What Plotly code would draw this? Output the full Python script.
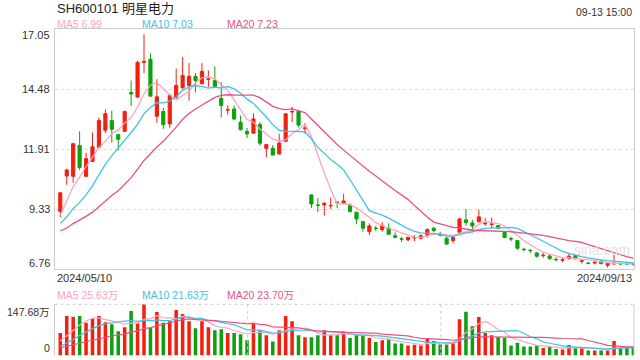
import plotly.graph_objects as go
import pandas as pd

# ---------------- data ----------------
dates = [d.strftime('%Y/%m/%d') for d in pd.bdate_range('2024-05-10', '2024-09-13')
         if d.strftime('%Y-%m-%d') != '2024-06-10']

open_ = [9.23, 10.75, 10.74, 12.06, 10.74, 11.38, 11.98, 12.72, 13.13, 12.53,
         12.67, 14.34, 14.14, 15.63, 15.76, 13.32, 13.52, 12.99, 14.14, 14.54,
         14.64, 15.03, 14.71, 14.90, 14.85, 14.09, 13.58, 13.63, 13.06, 12.67,
         12.59, 12.96, 11.94, 11.94, 11.70, 12.24, 13.50, 13.53, 12.79, 9.94,
         9.51, 9.51, 9.47, 9.63, 9.57, 9.51, 9.20, 8.79, 8.36, 8.51,
         8.45, 8.51, 8.19, 8.06, 8.01, 8.09, 8.08, 8.22, 8.51, 8.23,
         8.08, 7.98, 8.34, 8.87, 8.74, 8.79, 8.70, 8.67, 8.62, 8.36,
         8.06, 7.98, 7.61, 7.57, 7.45, 7.33, 7.32, 7.17, 7.14, 7.21,
         7.34, 7.09, 7.01, 7.02, 7.10, 6.92, 6.98, 7.00, 6.99, 6.99]
high = [10.06, 11.07, 12.17, 12.67, 11.75, 12.62, 13.26, 13.61, 13.56, 12.55,
        13.56, 14.85, 15.70, 16.83, 16.02, 14.91, 13.68, 14.28, 15.36, 15.86,
        15.60, 15.17, 15.60, 15.28, 15.46, 14.78, 13.78, 13.78, 13.35, 12.81,
        13.45, 13.06, 12.10, 12.08, 12.56, 13.45, 13.73, 13.56, 13.03, 9.96,
        9.80, 9.63, 9.83, 9.65, 9.99, 9.58, 9.20, 8.82, 8.72, 8.62,
        8.77, 8.72, 8.33, 8.14, 8.15, 8.22, 8.25, 8.51, 8.56, 8.36,
        8.15, 8.15, 8.94, 9.33, 8.87, 9.31, 8.94, 8.97, 8.65, 8.39,
        8.15, 8.00, 7.67, 7.61, 7.49, 7.45, 7.38, 7.26, 7.24, 7.42,
        7.39, 7.17, 7.06, 7.10, 7.13, 7.04, 7.38, 7.04, 7.07, 7.03]
low = [8.99, 10.38, 10.46, 11.01, 10.72, 11.36, 11.97, 12.59, 12.18, 11.85,
       12.66, 13.76, 14.12, 15.17, 14.18, 13.03, 12.76, 12.82, 14.06, 14.50,
       13.99, 14.35, 14.70, 14.57, 14.58, 13.27, 13.39, 13.16, 12.70, 12.38,
       12.58, 12.05, 11.55, 11.65, 11.67, 12.22, 13.06, 12.84, 12.56, 9.37,
       9.20, 9.05, 9.34, 9.37, 9.56, 9.20, 8.68, 8.36, 8.22, 8.39,
       8.36, 8.24, 8.08, 7.92, 7.96, 7.96, 8.03, 8.11, 8.33, 8.16,
       7.80, 7.86, 8.31, 8.62, 8.33, 8.76, 8.61, 8.51, 8.48, 8.08,
       7.95, 7.59, 7.52, 7.45, 7.24, 7.24, 7.16, 7.09, 7.06, 7.16,
       7.17, 6.99, 6.96, 6.96, 6.96, 6.82, 6.93, 6.94, 6.94, 6.91]
close = [10.03, 11.01, 12.14, 11.12, 11.50, 12.01, 13.13, 13.43, 12.76, 12.33,
         13.52, 14.27, 15.63, 15.66, 14.18, 14.15, 12.96, 14.21, 14.64, 15.07,
         15.03, 14.85, 15.24, 14.92, 14.59, 13.78, 13.60, 13.20, 12.74, 12.56,
         13.20, 12.16, 12.10, 11.65, 12.17, 13.42, 13.52, 12.94, 12.81, 9.55,
         9.49, 9.58, 9.49, 9.62, 9.68, 9.22, 8.91, 8.51, 8.61, 8.50,
         8.62, 8.25, 8.12, 8.04, 8.12, 8.11, 8.19, 8.45, 8.41, 8.22,
         7.83, 8.11, 8.91, 8.75, 8.61, 9.00, 8.72, 8.69, 8.51, 8.11,
         8.05, 7.65, 7.59, 7.55, 7.31, 7.35, 7.21, 7.16, 7.16, 7.31,
         7.20, 7.11, 7.00, 7.04, 6.99, 7.00, 7.00, 6.98, 6.98, 6.97]
# volume in 万股
volume = [65.0, 113.6, 111.6, 113.6, 94.2, 105.8, 113.6, 96.1, 90.3, 69.9,
          81.5, 128.1, 94.2, 147.68, 79.6, 125.2, 94.2, 99.0, 131.1, 119.4,
          99.0, 78.6, 99.0, 81.5, 72.8, 75.7, 65.0, 65.0, 61.1, 43.7,
          94.2, 72.8, 58.2, 40.7, 72.8, 113.6, 99.0, 58.2, 52.4, 52.4,
          58.2, 72.8, 58.2, 58.2, 67.9, 50.5, 58.2, 58.2, 50.5, 38.8,
          43.7, 46.6, 34.9, 34.9, 29.1, 31.0, 29.1, 48.5, 41.7, 32.0,
          32.0, 35.9, 104.8, 126.2, 84.4, 110.7, 65.0, 58.2, 53.4, 50.5,
          29.1, 36.8, 26.2, 26.2, 28.1, 21.3, 24.2, 18.4, 17.4, 30.0,
          22.3, 22.3, 14.5, 14.5, 14.55, 14.5, 41.9, 22.3, 22.3, 27.15]

# moving-average values at the start of the window (read from the picture,
# they depend on days before the visible range)
ma5_head = [9.08, 9.70, 10.30, 10.70]
ma10_head = [8.72, 8.99, 9.35, 9.62, 9.94, 10.33, 10.80, 11.25, 11.63]
ma20_head = [8.39, 8.52, 8.71, 8.86, 9.02, 9.20, 9.44, 9.70, 9.92, 10.12,
             10.38, 10.68, 11.05, 11.42, 11.71, 12.00, 12.24, 12.53, 12.85]
vma5_head = [42, 57, 72, 88]
vma10_head = [26, 35, 46, 58, 68, 78, 86, 91, 95]
vma20_head = [22.3, 26.9, 31.5, 36.2, 39.9, 44.2, 48.9, 52.7, 56.2, 58.7,
              61.8, 67.2, 70.9, 77.3, 80.2, 85.5, 89.2, 93.2, 98.7]

price_ticks = [17.05, 14.48, 11.91, 9.33, 6.76]
vol_ticks = [147.68, 0]
title_text = 'SH600101 明星电力'
time_text = '09-13 15:00'

# ---------------- styles ----------------
RED = '#f2200f'
GREEN = '#0fa00f'
C5 = '#ffa2c2'
C10 = '#3fc3e3'
C20 = '#ea4f88'
FONT = 'Arial, "Liberation Sans", "Noto Sans CJK SC", sans-serif'
W, H = 640, 360
X0, X1 = 54.5 / W, 634 / W
PY0, PY1 = 1 - 269 / H, 1 - 29.3 / H
VY0, VY1 = 1 - 355.5 / H, 1 - 304.3 / H


def ma(values, n, head):
    s = pd.Series(values, dtype=float).rolling(n).mean()
    s.iloc[:n - 1] = head
    return s


ma5, ma10, ma20 = ma(close, 5, ma5_head), ma(close, 10, ma10_head), ma(close, 20, ma20_head)
vma5, vma10, vma20 = ma(volume, 5, vma5_head), ma(volume, 10, vma10_head), ma(volume, 20, vma20_head)

fig = go.Figure()
fig.add_trace(go.Candlestick(
    x=dates, open=open_, high=high, low=low, close=close,
    increasing=dict(line=dict(color=RED, width=1), fillcolor=RED),
    decreasing=dict(line=dict(color=GREEN, width=1), fillcolor=GREEN),
    xaxis='x', yaxis='y', hoverinfo='skip'))
for s, c in [(ma5, C5), (ma10, C10), (ma20, C20)]:
    fig.add_trace(go.Scatter(x=dates, y=s, mode='lines', line=dict(color=c, width=1.3),
                             xaxis='x', yaxis='y', hoverinfo='skip'))

bar_colors = [RED if c >= o else GREEN for o, c in zip(open_, close)]
fig.add_trace(go.Bar(x=dates, y=volume, marker=dict(color=bar_colors, line=dict(width=0)),
                     width=0.55, xaxis='x2', yaxis='y2', hoverinfo='skip'))
for s, c in [(vma5, C5), (vma10, C10), (vma20, C20)]:
    fig.add_trace(go.Scatter(x=dates, y=s, mode='lines', line=dict(color=c, width=1.2),
                             xaxis='x2', yaxis='y2', hoverinfo='skip'))

n = len(dates)
xr = [-0.9, n - 0.9]
fig.update_layout(
    width=W, height=H, margin=dict(l=0, r=0, t=0, b=0),
    paper_bgcolor='white', plot_bgcolor='white', showlegend=False,
    font=dict(family=FONT, color='#333', size=11),
    xaxis=dict(domain=[X0, X1], range=xr, type='category', showticklabels=False,
               showgrid=False, zeroline=False, showline=True, mirror=True,
               linecolor='#cccccc', linewidth=1, anchor='y', rangeslider=dict(visible=False)),
    yaxis=dict(domain=[PY0, PY1], range=[price_ticks[-1], price_ticks[0]],
               tickvals=price_ticks[1:-1], showticklabels=False, ticks='',
               showgrid=True, gridcolor='#dcdcdc', griddash='dot', gridwidth=1,
               zeroline=False, showline=True, mirror=True, linecolor='#cccccc',
               linewidth=1, anchor='x'),
    xaxis2=dict(domain=[X0, X1], range=xr, type='category', showticklabels=False,
                showgrid=False, zeroline=False, showline=False, anchor='y2'),
    yaxis2=dict(domain=[VY0, VY1], range=[0, vol_ticks[0]], showticklabels=False,
                showgrid=False, zeroline=False, showline=False, anchor='x2'),
)

shapes = [
    dict(type='line', xref='paper', yref='paper', x0=X0, x1=X1, y0=VY1, y1=VY1,
         line=dict(color='#cccccc', width=1, dash='dot')),
    dict(type='line', xref='paper', yref='paper', x0=X0, x1=X0, y0=VY0, y1=VY1,
         line=dict(color='#cccccc', width=1)),
    dict(type='line', xref='paper', yref='paper', x0=X1, x1=X1, y0=VY0, y1=VY1,
         line=dict(color='#cccccc', width=1)),
]
for k in (1, 2):
    xv = X0 + (X1 - X0) * k / 3
    shapes.append(dict(type='line', xref='paper', yref='paper', x0=xv, x1=xv, y0=VY0, y1=VY1,
                       line=dict(color='#cccccc', width=1, dash='dot')))
fig.update_layout(shapes=shapes)


def py(px):
    return 1 - px / H


ann = []


def text(t, x, y, xa='left', size=11, color='#333'):
    ann.append(dict(text=t, x=x / W, y=py(y), xref='paper', yref='paper', xanchor=xa,
                    yanchor='middle', showarrow=False, font=dict(size=size, color=color, family=FONT)))


text(title_text, 55, 8.5, size=13, color='#222')
text(time_text, 634, 12, xa='right', size=10.5)
text(f'MA5 {ma5.iloc[-1]:.2f}', 55, 24, size=10.5, color=C5)
text(f'MA10 {ma10.iloc[-1]:.2f}', 140, 24, size=10.5, color=C10)
text(f'MA20 {ma20.iloc[-1]:.2f}', 225, 24, size=10.5, color=C20)
# price axis labels
label_y = [35, 89.3, 149.2, 209.1, 263]
for v, yy in zip(price_ticks, label_y):
    text(f'{v:.2f}', 51.5, yy, xa='right', size=11)
text(dates[0], 55, 278, size=11)
text(dates[-1], 634, 278, xa='right', size=11)
text(f'MA5 {vma5.iloc[-1]:.2f}万', 55, 295, size=10.5, color=C5)
text(f'MA10 {vma10.iloc[-1]:.2f}万', 140, 295, size=10.5, color=C10)
text(f'MA20 {vma20.iloc[-1]:.2f}万', 225, 295, size=10.5, color=C20)
text(f'{vol_ticks[0]:.2f}万', 51.5, 311.7, xa='right', size=10.5)
text('0', 51.5, 348, xa='right', size=10.5)
text('sina.com', 602, 249.5, xa='center', size=14, color='#e2e2e2')
fig.update_layout(annotations=ann)

fig.write_html('out.html', config={'displayModeBar': False},
               post_script="document.body.style.margin='0px';document.body.style.overflow='hidden';")
